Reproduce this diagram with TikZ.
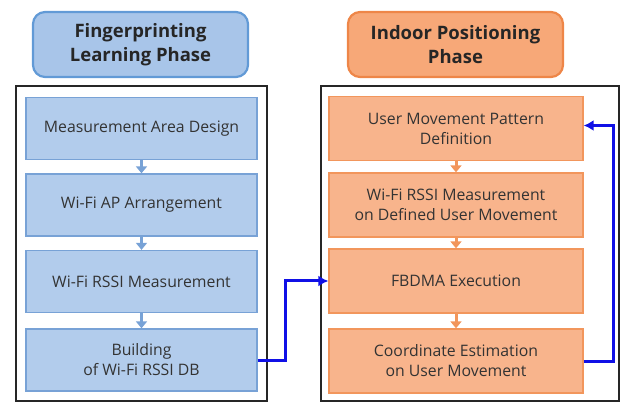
\documentclass[tikz,border=0pt]{standalone}
\usepackage{fontspec}
\setmainfont{Open Sans}
\usepackage{tikz}
\usetikzlibrary{positioning,arrows.meta}
\definecolor{phaseblue}{RGB}{168,197,233}
\definecolor{phaseblueline}{RGB}{98,154,214}
\definecolor{stepblue}{RGB}{178,204,236}
\definecolor{stepblueline}{RGB}{120,162,214}
\definecolor{phaseorange}{RGB}{247,168,120}
\definecolor{phaseorangeline}{RGB}{238,134,72}
\definecolor{steporange}{RGB}{248,180,140}
\definecolor{steporangeline}{RGB}{242,150,92}
\definecolor{linkblue}{RGB}{16,16,230}

\begin{document}
\begin{tikzpicture}[x=1pt,y=-1pt,
  phasebox/.style={rounded corners=12pt,line width=2.2pt,minimum width=215pt,minimum height=65pt,
    align=center,inner sep=2pt,font=\fontsize{18.5}{24}\selectfont\bfseries,text=black!85},
  stepbox/.style={line width=1.3pt,align=center,inner sep=2pt,
    font=\fontsize{15.8}{20}\selectfont,text=black!80},
  blueflow/.style={stepblueline,line width=3pt,-{Triangle[width=11pt,length=7pt]}},
  orangeflow/.style={steporangeline,line width=3pt,-{Triangle[width=11pt,length=7pt]}},
  link/.style={linkblue,line width=3pt,-{Latex[width=11pt,length=10pt]}}]
\useasboundingbox (0,0) rectangle (621,403);
\clip (0,0) rectangle (621,403);

% ================= Left column: fingerprinting learning phase =================
\node[phasebox,fill=phaseblue,draw=phaseblueline] (learn) at (140.5,44.5) {Fingerprinting\\Learning Phase};
\draw[black!85,line width=1.8pt] (16,86) rectangle (267,401);
\begin{scope}[every node/.style={stepbox,fill=stepblue,draw=stepblueline,minimum width=231pt,minimum height=62pt}]
\node (b1) at (141.5,128.5) {Measurement Area Design};
\node (b2) at (141.5,205) {Wi-Fi AP Arrangement};
\node (b3) at (141.5,281.5) {Wi-Fi RSSI Measurement};
\node (b4) at (141.5,360) {Building\\of Wi-Fi RSSI DB};
\end{scope}
\draw[blueflow] (b1) -- (b2);
\draw[blueflow] (b2) -- (b3);
\draw[blueflow] (b3) -- (b4);

% ================= Right column: indoor positioning phase =================
\node[phasebox,fill=phaseorange,draw=phaseorangeline] (locate) at (455.5,44.5) {Indoor Positioning\\Phase};
\draw[black!85,line width=1.8pt] (321,86) rectangle (619,401);
\begin{scope}[every node/.style={stepbox,fill=steporange,draw=steporangeline,minimum width=254pt,minimum height=64pt}]
\node (r1) at (456,128.5) {User Movement Pattern\\Definition};
\node (r2) at (456,205) {Wi-Fi RSSI Measurement\\on Defined User Movement};
\node (r3) at (456,281) {FBDMA Execution};
\node (r4) at (456,361) {Coordinate Estimation\\on User Movement};
\end{scope}
\draw[orangeflow] (r1) -- (r2);
\draw[orangeflow] (r2) -- (r3);
\draw[orangeflow] (r3) -- (r4);

% ================= Links =================
\draw[link] (b4.east) -- ++(28,0) |- (r3.west);
\draw[link] (r4.east) -- ++(30,0) |- ([yshift=3pt]r1.east);
\end{tikzpicture}
\end{document}
